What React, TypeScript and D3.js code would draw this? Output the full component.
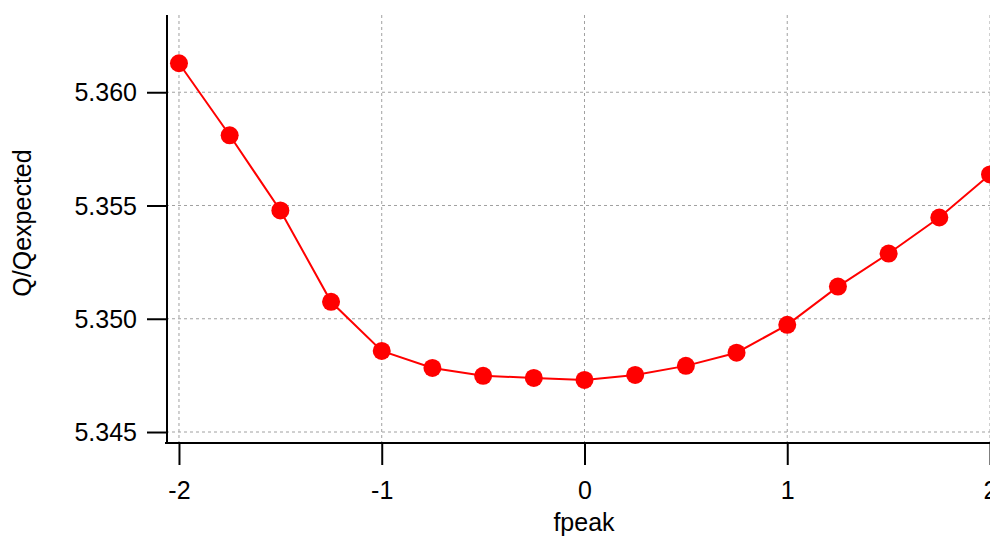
import React, { useEffect, useRef } from 'react';
import * as d3 from 'd3';

const fpeak = [-2, -1.75, -1.5, -1.25, -1, -0.75, -0.5, -0.25, 0, 0.25, 0.5, 0.75, 1, 1.25, 1.5, 1.75, 2];
const ratio = [
  5.36128, 5.3581, 5.35478, 5.35075, 5.34858, 5.34783, 5.34748, 5.34739, 5.3473,
  5.34752, 5.34792, 5.3485, 5.34973, 5.35142, 5.35288, 5.35447, 5.35637,
];
const xTicks = [-2, -1, 0, 1, 2];
const yTicks = [5.345, 5.35, 5.355, 5.36];

const W = 990;
const H = 538;

export default function App() {
  const ref = useRef<SVGSVGElement>(null);

  useEffect(() => {
    const svg = d3.select(ref.current);
    svg.selectAll('*').remove();

    const x = d3.scaleLinear().domain([-2.064, 2]).range([166, 990]);
    const y = d3.scaleLinear().domain([5.344515, 5.36341]).range([443, 15]);
    const font = 'Liberation Sans, Arial, sans-serif';
    const fs = 25;

    // grid
    svg.append('g')
      .selectAll('line')
      .data(xTicks)
      .enter()
      .append('line')
      .attr('x1', d => x(d)).attr('x2', d => x(d))
      .attr('y1', 15).attr('y2', 443)
      .attr('stroke', '#a0a0a0').attr('stroke-width', 1)
      .attr('stroke-dasharray', '3,3');

    svg.append('g')
      .selectAll('line')
      .data(yTicks)
      .enter()
      .append('line')
      .attr('x1', 166).attr('x2', 990)
      .attr('y1', d => y(d)).attr('y2', d => y(d))
      .attr('stroke', '#a0a0a0').attr('stroke-width', 1)
      .attr('stroke-dasharray', '3,3');

    // axes
    const xAxis = d3.axisBottom(x).tickValues(xTicks).tickSize(22)
      .tickFormat(d => String(d));
    const gx = svg.append('g').attr('transform', 'translate(0,443)').call(xAxis);
    gx.select('.domain').remove();
    gx.selectAll('line').attr('stroke', '#000').attr('stroke-width', 2);
    gx.selectAll('text').attr('y', 56).attr('dy', 0)
      .attr('font-family', font).attr('font-size', fs).attr('fill', '#000');
    svg.append('line').attr('x1', 165).attr('x2', 990).attr('y1', 443).attr('y2', 443)
      .attr('stroke', '#000').attr('stroke-width', 2);

    const yAxis = d3.axisLeft(y).tickValues(yTicks).tickSize(20)
      .tickFormat(d3.format('.3f'));
    const gy = svg.append('g').attr('transform', 'translate(167,0)').call(yAxis);
    gy.select('.domain').remove();
    gy.selectAll('line').attr('stroke', '#000').attr('stroke-width', 2);
    gy.selectAll('text').attr('x', -30).attr('dy', '0.35em')
      .attr('font-family', font).attr('font-size', fs).attr('fill', '#000');
    svg.append('line').attr('x1', 167).attr('x2', 167).attr('y1', 15).attr('y2', 444)
      .attr('stroke', '#000').attr('stroke-width', 2);

    // labels
    svg.append('text').attr('x', 584).attr('y', 531).attr('text-anchor', 'middle')
      .attr('font-family', font).attr('font-size', fs).text('fpeak');
    svg.append('text')
      .attr('transform', 'translate(31,223) rotate(-90)')
      .attr('text-anchor', 'middle')
      .attr('font-family', font).attr('font-size', fs).text('Q/Qexpected');

    // series
    const pts = fpeak.map((f, i) => [f, ratio[i]] as [number, number]);
    const line = d3.line<[number, number]>().x(d => x(d[0])).y(d => y(d[1]));
    svg.append('path').datum(pts).attr('d', line)
      .attr('fill', 'none').attr('stroke', '#ff0000').attr('stroke-width', 2);
    svg.append('g')
      .selectAll('circle')
      .data(pts)
      .enter()
      .append('circle')
      .attr('cx', d => x(d[0])).attr('cy', d => y(d[1]))
      .attr('r', 9).attr('fill', '#ff0000');
  }, []);

  return (
    <svg
      ref={ref}
      width={W}
      height={H}
      style={{ position: 'absolute', left: 0, top: 0, background: '#fff' }}
    />
  );
}
